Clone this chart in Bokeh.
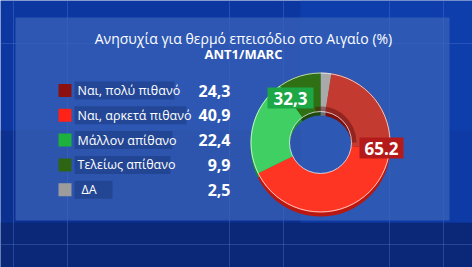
import numpy as np
from bokeh.plotting import figure
from bokeh.models import ColumnDataSource
from bokeh.core.properties import value
from bokeh.embed import file_html
from bokeh.resources import INLINE

# ---- data ----
title = "Ανησυχία για θερμό επεισόδιο στο Αιγαίο (%)"
subtitle = "ANT1/MARC"
categories = ["Ναι, πολύ πιθανό", "Ναι, αρκετά πιθανό", "Μάλλον απίθανο", "Τελείως απίθανο", "ΔΑ"]
values = [24.3, 40.9, 22.4, 9.9, 2.5]
value_labels = ["24,3", "40,9", "22,4", "9,9", "2,5"]
legend_colors = ["#8c1010", "#ff2216", "#1cb23c", "#2e6512", "#9c9c9c"]
slice_colors = ["#c23a30", "#ff3523", "#3fcf62", "#2f7014", "#a9a9a9"]
shadow_colors = ["#7a1010", "#b81810", "#1f8a36", "#1f4a0c", "#707070"]
# pie order clockwise from 12 o'clock
pie_order = [4, 0, 1, 2, 3]

W, H = 472, 267
def Y(py):
    return H - py

p = figure(width=W, height=H, x_range=(0, W), y_range=(0, H),
           output_backend="svg", toolbar_location=None,
           x_axis_location=None, y_axis_location=None, min_border=0)
p.grid.visible = False
p.outline_line_color = None
p.background_fill_color = "#0c37a0"
p.border_fill_color = "#0c37a0"

# background bands
p.quad(left=0, right=W, bottom=Y(267), top=Y(222), fill_color="#0a2778", line_color=None)
p.quad(left=0, right=W, bottom=Y(222), top=Y(130), fill_color="#0a2a80", line_color=None, fill_alpha=0.5)
p.quad(left=300, right=472, bottom=Y(222), top=Y(0), fill_color="#1044b8", line_color=None, fill_alpha=0.5)
for gx in [13, 67, 229, 283, 389, 443]:
    p.segment(x0=gx, y0=0, x1=gx, y1=H, line_color="#5a80d0", line_alpha=0.35, line_width=1)
for gy in [43, 244]:
    p.segment(x0=0, y0=Y(gy), x1=W, y1=Y(gy), line_color="#5a80d0", line_alpha=0.35, line_width=1)

# panel
p.quad(left=15, right=449, bottom=Y(220), top=Y(17), fill_color="#3a64b8", fill_alpha=0.72, line_color=None)

# titles
p.text(x=[243], y=[Y(38)], text=[title], text_font=value("Open Sans"), text_font_size=value("14px"),
       text_color="white", text_align="center", text_baseline="middle")
p.text(x=[243], y=[Y(53.5)], text=[subtitle], text_font=value("Open Sans"), text_font_size=value("13px"),
       text_font_style="bold", text_color="white", text_align="center", text_baseline="middle")

# legend
row_y = [Y(90 + 24.8 * i) for i in range(len(categories))]
label_w = [100, 112, 98, 96, 38]
p.quad(left=[74] * 5, right=[74 + w for w in label_w], bottom=[y - 9 for y in row_y], top=[y + 9 for y in row_y],
       fill_color="#1b3a80", fill_alpha=0.55, line_color=None)
p.rect(x=[64.5] * 5, y=row_y, width=13, height=13, fill_color=legend_colors, line_color=None)
p.text(x=[77, 77, 77, 77, 81], y=row_y, text=categories, text_font=value("Open Sans"), text_font_size=value("12.5px"),
       text_color="white", text_align="left", text_baseline="middle")
p.text(x=[230] * 5, y=row_y, text=value_labels, text_font=value("Open Sans"), text_font_size=value("16px"),
       text_font_style="bold", text_color="white", text_align="right", text_baseline="middle")

# donut
cx, cy = 320, Y(142)
r_in, r_out = 31, 70
vals = np.array([values[i] for i in pie_order])
fr = vals / vals.sum()
ends = np.cumsum(fr)
starts = ends - fr
src = ColumnDataSource(dict(
    start=np.pi / 2 - ends * 2 * np.pi,
    end=np.pi / 2 - starts * 2 * np.pi,
    color=[slice_colors[i] for i in pie_order],
    shadow=[shadow_colors[i] for i in pie_order],
))
# 3D edge / shadow
p.annular_wedge(x=cx, y=cy - 4, inner_radius=r_in, outer_radius=r_out, start_angle="start", end_angle="end",
                fill_color="shadow", line_color=None, source=src)
p.annular_wedge(x=cx, y=cy, inner_radius=r_in, outer_radius=r_out, start_angle="start", end_angle="end",
                fill_color="color", line_color=None, source=src)
# inner hole depth shading
p.annular_wedge(x=cx, y=cy, inner_radius=r_in, outer_radius=r_in + 5, start_angle=np.pi * 0.0, end_angle=np.pi * 0.55,
                fill_color="#5a0c0c", fill_alpha=0.45, line_color=None)
p.circle(x=cx, y=cy, radius=r_out - 0.5, fill_color=None, line_color="white", line_alpha=0.7, line_width=1)
p.circle(x=cx, y=cy, radius=r_in, fill_color=None, line_color="white", line_alpha=0.7, line_width=1)

# group labels
green_sum = values[2] + values[3]
red_sum = values[0] + values[1]
p.quad(left=[267], right=[313], bottom=[Y(108)], top=[Y(87)], fill_color="#1da746", line_color=None)
p.text(x=[290], y=[Y(97.5)], text=[f"{green_sum:.1f}".replace(".", ",")], text_font=value("Open Sans"),
       text_font_size=value("17px"), text_font_style="bold", text_color="white",
       text_align="center", text_baseline="middle")
p.quad(left=[359], right=[403], bottom=[Y(158)], top=[Y(137)], fill_color="#b41a1a", line_color=None)
p.text(x=[381], y=[Y(147.5)], text=[f"{red_sum:.1f}"], text_font=value("Open Sans"),
       text_font_size=value("17px"), text_font_style="bold", text_color="white",
       text_align="center", text_baseline="middle")

open("out.html", "w").write(file_html(p, INLINE))
